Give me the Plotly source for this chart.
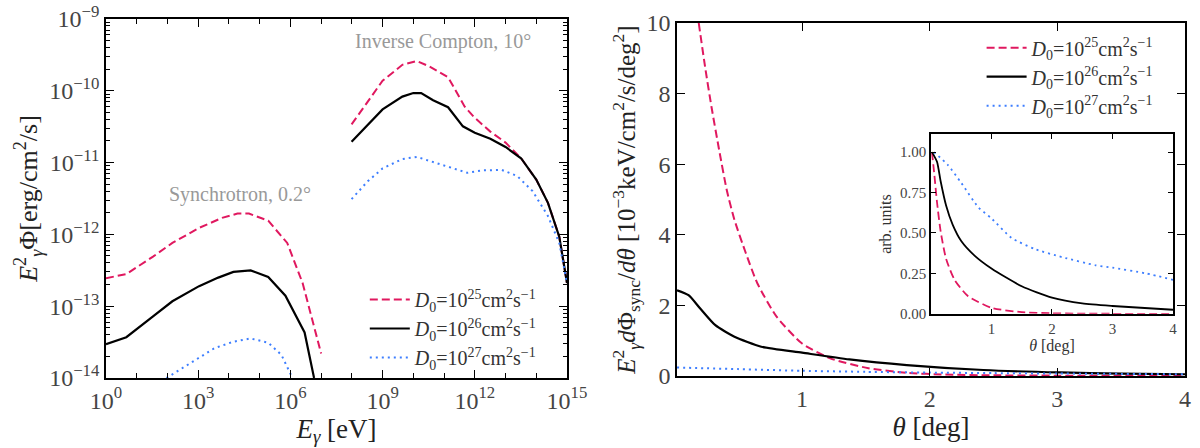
import plotly.graph_objects as go

# ---- left panel: spectra (E in eV, E^2 Phi in erg/cm^2/s) ----
sync_E_25 = [1, 4.6, 34, 145, 1.07e3, 6.0e3, 1.9e4, 4.5e4, 1.9e5, 7.9e5, 2.5e6, 5.1e6, 1.0e7]
sync_F_25 = [2.45e-13, 2.8e-13, 4.9e-13, 7.6e-13, 1.23e-12, 1.7e-12, 1.95e-12, 1.95e-12,
             1.55e-12, 7.6e-13, 2.1e-13, 6.5e-14, 2.2e-14]
sync_E_26 = [1, 4.6, 34, 145, 1.07e3, 4.5e3, 1.4e4, 5.1e4, 1.9e5, 6.9e5, 2.9e6, 5.9e6]
sync_F_26 = [2.95e-14, 3.7e-14, 7.2e-14, 1.17e-13, 1.9e-13, 2.5e-13, 3.0e-13, 3.15e-13,
             2.55e-13, 1.4e-13, 4.3e-14, 1.0e-14]
sync_E_27 = [93, 600, 3.4e3, 1.4e4, 5.1e4, 1.9e5, 5.1e5, 1.05e6]
sync_F_27 = [1.0e-14, 1.62e-14, 2.6e-14, 3.2e-14, 3.55e-14, 3.1e-14, 2.1e-14, 1.1e-14]

ic_E_25 = [9.8e7, 3.3e8, 1.0e9, 4.4e9, 1.3e10, 3.2e10, 1.35e11, 4.7e11, 1.0e12, 3.2e12,
           1.0e13, 3.2e13, 1.0e14, 2.4e14, 5.6e14, 1.0e15]
ic_F_25 = [3.4e-11, 7.1e-11, 1.38e-10, 2.3e-10, 2.6e-10, 2.2e-10, 1.55e-10, 6.0e-11, 4.2e-11,
           2.7e-11, 1.9e-11, 1.15e-11, 5.8e-12, 2.75e-12, 9.3e-13, 2.1e-13]
ic_E_26 = [9.8e7, 3.3e8, 1.0e9, 4.4e9, 1.0e10, 1.8e10, 4.4e10, 1.35e11, 4.1e11, 1.0e12,
           3.2e12, 1.0e13, 3.2e13, 1.0e14, 2.4e14, 5.6e14, 1.0e15]
ic_F_26 = [1.95e-11, 3.4e-11, 5.5e-11, 8.3e-11, 9.3e-11, 9.3e-11, 7.4e-11, 5.9e-11, 3.2e-11,
           2.6e-11, 2.15e-11, 1.65e-11, 1.15e-11, 5.8e-12, 2.75e-12, 9.3e-13, 2.1e-13]
ic_E_27 = [9.8e7, 3.3e8, 1.0e9, 4.4e9, 1.3e10, 4.4e10, 1.8e11, 5.8e11, 1.8e12, 7.6e12,
           2.4e13, 7.6e13, 2.4e14, 5.6e14, 1.0e15]
ic_F_27 = [3.1e-12, 5.5e-12, 8.3e-12, 1.12e-11, 1.2e-11, 1.02e-11, 8.3e-12, 7.2e-12, 7.8e-12,
           7.9e-12, 6.5e-12, 4.0e-12, 1.8e-12, 7.6e-13, 2.1e-13]

# ---- right panel: angular profile ----
th_25 = [0.19, 0.24, 0.29, 0.35, 0.41, 0.47, 0.56, 0.65, 0.80, 1.0, 1.22, 1.52, 1.82, 2.12,
         2.5, 3.0, 3.5, 4.0]
prof_25 = [10.0, 8.75, 7.62, 6.40, 5.26, 4.42, 3.47, 2.62, 1.68, 0.92, 0.50, 0.22, 0.09, 0.04,
           0.02, 0.01, 0.005, 0.003]
th_26 = [0.02, 0.11, 0.20, 0.32, 0.47, 0.68, 1.0, 1.37, 1.82, 2.42, 3.02, 3.5, 4.0]
prof_26 = [2.43, 2.29, 1.92, 1.44, 1.11, 0.83, 0.66, 0.47, 0.31, 0.17, 0.10, 0.07, 0.05]
th_27 = [0.02, 0.5, 1.0, 1.5, 2.0, 2.5, 3.0, 3.5, 4.0]
prof_27 = [0.24, 0.195, 0.147, 0.118, 0.096, 0.082, 0.07, 0.06, 0.05]

# inset, normalised
in_th_25 = [0.017, 0.056, 0.10, 0.16, 0.25, 0.39, 0.61, 1.0, 1.5, 2.0, 3.0, 4.0]
in_25 = [1.0, 0.86, 0.69, 0.51, 0.34, 0.21, 0.11, 0.037, 0.01, 0.003, 0.0, 0.0]
in_th_26 = [0.017, 0.10, 0.16, 0.25, 0.36, 0.50, 0.72, 1.0, 1.5, 2.0, 2.5, 3.0, 4.0]
in_26 = [1.0, 0.94, 0.82, 0.67, 0.55, 0.45, 0.36, 0.28, 0.17, 0.10, 0.064, 0.048, 0.025]
in_th_27 = [0.05, 0.28, 0.50, 0.78, 1.0, 1.33, 1.72, 2.17, 2.72, 3.0, 3.55, 4.0]
in_27 = [1.0, 0.92, 0.81, 0.66, 0.59, 0.47, 0.40, 0.35, 0.30, 0.285, 0.25, 0.21]

labels = ["<i>D</i><sub>0</sub>=10<sup>25</sup>cm<sup>2</sup>s<sup>−1</sup>",
          "<i>D</i><sub>0</sub>=10<sup>26</sup>cm<sup>2</sup>s<sup>−1</sup>",
          "<i>D</i><sub>0</sub>=10<sup>27</sup>cm<sup>2</sup>s<sup>−1</sup>"]

RED = "#e0185f"
BLUE = "#3d7eff"
styles = [dict(color=RED, width=2, dash="8px,4px"),
          dict(color="black", width=2.2),
          dict(color=BLUE, width=2, dash="2px,4px")]

FONT = "Liberation Serif"
TICKC = "#444"

fig = go.Figure()

# left panel: sync + IC joined by a gap
left_sets = [(sync_E_25, sync_F_25, ic_E_25, ic_F_25),
             (sync_E_26, sync_F_26, ic_E_26, ic_F_26),
             (sync_E_27, sync_F_27, ic_E_27, ic_F_27)]
for i, (se, sf, ie, iff) in enumerate(left_sets):
    fig.add_trace(go.Scatter(x=se + [None] + ie, y=sf + [None] + iff, mode="lines",
                             line=styles[i], name=labels[i], legend="legend",
                             connectgaps=False, xaxis="x", yaxis="y"))

# right panel
for i, (t, p) in enumerate([(th_25, prof_25), (th_26, prof_26), (th_27, prof_27)]):
    fig.add_trace(go.Scatter(x=t, y=p, mode="lines", line=dict(styles[i], shape="spline", smoothing=0.6),
                             name=labels[i], legend="legend2", xaxis="x2", yaxis="y2"))

# inset
for i, (t, p) in enumerate([(in_th_25, in_25), (in_th_26, in_26), (in_th_27, in_27)]):
    st = dict(styles[i], shape="spline", smoothing=0.6)
    st["width"] = 1.8
    fig.add_trace(go.Scatter(x=t, y=p, mode="lines", line=st, showlegend=False,
                             xaxis="x3", yaxis="y3"))

ax_common = dict(showline=True, linecolor="black", linewidth=1.5, mirror="allticks",
                 ticks="inside", tickcolor="black", showgrid=False, zeroline=False,
                 automargin=False,
                 tickfont=dict(family=FONT, size=24, color=TICKC))

x_major = [1, 1e3, 1e6, 1e9, 1e12, 1e15]
x_text = ["10<sup>0</sup>", "10<sup>3</sup>", "10<sup>6</sup>",
          "10<sup>9</sup>", "10<sup>12</sup>", "10<sup>15</sup>"]
x_minor = [10.0 ** k for k in range(0, 16)]
y_major = [1e-14, 1e-13, 1e-12, 1e-11, 1e-10, 1e-9]
y_text = ["10<sup>−14</sup>", "10<sup>−13</sup>", "10<sup>−12</sup>",
          "10<sup>−11</sup>", "10<sup>−10</sup>", "10<sup>−9</sup>"]
y_minor = [m * 10.0 ** k for k in range(-14, -9) for m in range(2, 10)]

fig.update_layout(
    width=1200, height=448,
    margin=dict(l=0, r=0, t=0, b=0),
    paper_bgcolor="white", plot_bgcolor="white",
    font=dict(family=FONT, color="black"),
    xaxis=dict(ax_common, type="log", domain=[0.0883, 0.4725], range=[0, 15],
               tickvals=x_major, ticktext=x_text, ticklen=8,
               minor=dict(tickvals=x_minor, ticklen=5, ticks="inside", tickcolor="black"),
               title=dict(text="<i>E<sub>γ</sub></i> [eV]", font=dict(size=27, color="#222"), standoff=0),
               anchor="y"),
    yaxis=dict(ax_common, type="log", domain=[0.1563, 0.9576], range=[-14, -9],
               tickvals=y_major, ticktext=y_text, ticklen=8,
               minor=dict(tickvals=y_minor, ticklen=4, ticks="inside", tickcolor="black"),
               title=dict(text="<i>E</i><sup>2</sup><sub><i>γ</i></sub>Φ[erg/cm<sup>2</sup>/s]",
                          font=dict(size=26, color="#222"), standoff=4),
               anchor="x"),
    xaxis2=dict(ax_common, domain=[0.5642, 0.9875], range=[0.02, 4], tickvals=[1, 2, 3, 4],
                ticklen=8,
                title=dict(text="<i>θ</i> [deg]", font=dict(size=27, color="#222"), standoff=0),
                anchor="y2"),
    yaxis2=dict(ax_common, domain=[0.1607, 0.9487], range=[0, 10], tickvals=[0, 2, 4, 6, 8, 10],
                ticklen=8,
                title=dict(text="<i>E</i><sup>2</sup><sub><i>γ</i></sub><i>d</i>Φ<sub>sync</sub>/<i>dθ</i>"
                                " [10<sup>−3</sup>keV/cm<sup>2</sup>/s/deg<sup>2</sup>]",
                           font=dict(size=25, color="#222"), standoff=4),
                anchor="x2"),
    xaxis3=dict(ax_common, domain=[0.7758, 0.9775], range=[0.0, 4], tickvals=[1, 2, 3, 4],
                ticklen=5, tickfont=dict(family=FONT, size=15, color=TICKC),
                title=dict(text="<i>θ</i> [deg]", font=dict(size=16, color="#333"), standoff=4),
                anchor="y3"),
    yaxis3=dict(ax_common, domain=[0.2996, 0.7002], range=[0, 1.11],
                tickvals=[0, 0.25, 0.5, 0.75, 1.0], tickformat=".2f", ticklen=5,
                tickfont=dict(family=FONT, size=15, color=TICKC),
                title=dict(text="arb. units", font=dict(size=16, color="#333"), standoff=4),
                anchor="x3"),
    legend=dict(x=0.304, y=0.375, xanchor="left", yanchor="top", bgcolor="rgba(0,0,0,0)",
                font=dict(family=FONT, size=20, color="#333"), itemwidth=40),
    legend2=dict(x=0.818, y=0.937, xanchor="left", yanchor="top", bgcolor="rgba(0,0,0,0)",
                 font=dict(family=FONT, size=20, color="#333"), itemwidth=40),
    annotations=[
        dict(text="Synchrotron, 0.2°", x=4.36, y=-11.44, xref="x", yref="y", showarrow=False,
             font=dict(family=FONT, size=20, color="#999")),
        dict(text="Inverse Compton, 10°", x=10.97, y=-9.32, xref="x", yref="y", showarrow=False,
             font=dict(family=FONT, size=20, color="#999")),
    ],
)

# the page body has a default 8px margin; remove it so the figure fills the window
fig.write_html("out.html", config={"displayModeBar": False},
               post_script="document.body.style.margin='0px';")
